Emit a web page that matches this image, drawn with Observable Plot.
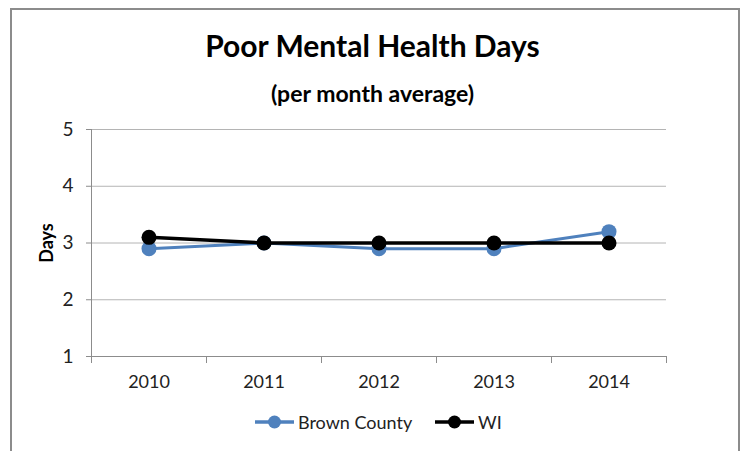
<!DOCTYPE html>
<html><head><meta charset="utf-8">
<script src="https://cdn.jsdelivr.net/npm/d3@7"></script>
<script src="https://cdn.jsdelivr.net/npm/@observablehq/plot@0.6"></script>
<style>
body{margin:0;background:#fff;font-family:Lato,"Open Sans",sans-serif;}
#wrap{position:relative;width:745px;height:451px;overflow:hidden;background:#fff;}
#border{position:absolute;left:10px;top:8px;width:730px;height:480px;border:2px solid #8c8c8c;box-sizing:border-box;pointer-events:none;}
#title{position:absolute;left:0;width:745px;top:27px;text-align:center;font-weight:bold;font-size:30px;color:#000;line-height:36px;}
#subtitle{position:absolute;left:0;width:745px;top:79px;text-align:center;font-weight:bold;font-size:23px;color:#000;line-height:28px;}
#ylabel{position:absolute;left:46px;top:243px;transform:translate(-50%,-50%) rotate(-90deg);font-weight:bold;font-size:18px;color:#000;}
#chart{position:absolute;left:0;top:0;}
.leg{position:absolute;top:411px;display:flex;align-items:center;font-size:18px;color:#222;height:22px;}
.leg svg{margin-right:4px;}
</style></head>
<body>
<div id="wrap">
  <div id="chart"></div>
  <div id="title">Poor Mental Health Days</div>
  <div id="subtitle">(per month average)</div>
  <div id="ylabel">Days</div>
  <div id="legend"></div>
  <div id="border"></div>
</div>
<script>
const years = [2010, 2011, 2012, 2013, 2014];
const brownCounty = [2.9, 3.0, 2.9, 2.9, 3.2];
const wi = [3.1, 3.0, 3.0, 3.0, 3.0];
const yTicks = [1, 2, 3, 4, 5];
const seriesNames = ["Brown County", "WI"];
const seriesColors = ["#4f81bd", "#000000"];

const brownData = years.map((y, i) => ({year: y, value: brownCounty[i]}));
const wiData = years.map((y, i) => ({year: y, value: wi[i]}));
const boundaries = [years[0] - 0.5, ...years.map(y => y + 0.5)];

const plot = Plot.plot({
  width: 745,
  height: 451,
  marginLeft: 91,
  marginRight: 79,
  marginTop: 129,
  marginBottom: 95,
  style: {fontFamily: "Lato, 'Open Sans', sans-serif", fontSize: "18px", color: "#222", background: "transparent"},
  x: {type: "linear", domain: [boundaries[0], boundaries[boundaries.length - 1]]},
  y: {domain: [yTicks[0], yTicks[yTicks.length - 1]]},
  marks: [
    Plot.gridY(yTicks.slice(1), {stroke: "#b4b4b4", strokeOpacity: 1}),
    Plot.ruleY([yTicks[0]], {stroke: "#8c8c8c"}),
    Plot.ruleX([boundaries[0]], {stroke: "#8c8c8c"}),
    Plot.axisY({ticks: yTicks, tickSize: 5, tickPadding: 13, stroke: "#8c8c8c", tickFormat: d => String(d), label: null, fontSize: 19}),
    Plot.axisX({ticks: boundaries, tickSize: 7, tickFormat: () => "", stroke: "#8c8c8c", label: null}),
    Plot.axisX({ticks: years, tickSize: 0, tickPadding: 19, tickFormat: d => String(d), label: null, fontSize: 18}),
    Plot.line(brownData, {x: "year", y: "value", stroke: seriesColors[0], strokeWidth: 3}),
    Plot.dot(brownData, {x: "year", y: "value", fill: seriesColors[0], r: 7.5}),
    Plot.line(wiData, {x: "year", y: "value", stroke: seriesColors[1], strokeWidth: 3.5}),
    Plot.dot(wiData, {x: "year", y: "value", fill: seriesColors[1], r: 7.5})
  ]
});
document.getElementById("chart").appendChild(plot);

// legend
const legend = document.getElementById("legend");
const legLefts = [255, 435];
seriesNames.forEach((name, i) => {
  const d = document.createElement("div");
  d.className = "leg";
  d.style.left = legLefts[i] + "px";
  d.innerHTML = `<svg width="39" height="14"><line x1="0" y1="7" x2="39" y2="7" stroke="${seriesColors[i]}" stroke-width="3.5"/><circle cx="19.5" cy="7" r="6.5" fill="${seriesColors[i]}"/></svg><span>${name}</span>`;
  legend.appendChild(d);
});
</script>
</body></html>
